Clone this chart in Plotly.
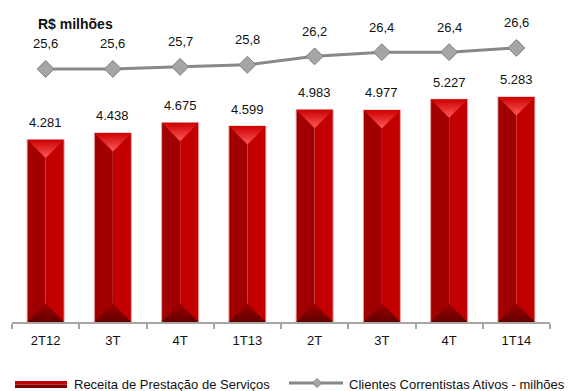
import plotly.graph_objects as go

# Quarterly periods, service revenue (R$ millions) and active checking-account clients (millions)
periodos = ["2T12", "3T", "4T", "1T13", "2T", "3T", "4T", "1T14"]
receita = [4281, 4438, 4675, 4599, 4983, 4977, 5227, 5283]
clientes = [25.6, 25.6, 25.7, 25.8, 26.2, 26.4, 26.4, 26.6]

nome_receita = "Receita de Prestação de Serviços"
nome_clientes = "Clientes Correntistas Ativos - milhões"
titulo = "R$ milhões"

# Canvas / plot-area geometry (pixels)
W, H = 569, 391
ML, MR, MT, MB = 12, 19, 10, 69
PLOT_W = W - ML - MR
PLOT_H = H - MT - MB

Y_MAX = 7324.0                  # revenue axis
Y2_MIN = 13.55                  # clients axis
Y2_MAX = Y2_MIN + PLOT_H / 21.0

FONT = "Liberation Sans, Arial, Helvetica, sans-serif"
HALF = 0.275                    # half bar width (category units)
BEVEL = HALF * (PLOT_W / len(periodos)) * Y_MAX / PLOT_H   # 45-degree bevel in revenue units

xs = list(range(len(periodos)))


def fmt_milhar(v):
    return f"{v:,}".replace(",", ".")


def fmt_dec(v):
    return f"{v:.1f}".replace(".", ",")


def px_x(p):
    return (p - ML) / PLOT_W


def px_y(p):
    return (H - MB - p) / PLOT_H


fig = go.Figure()

# Bar body: darker left face, brighter right face
fig.add_trace(go.Bar(x=xs, y=receita, width=HALF, offset=-HALF,
                     marker=dict(color="#A10000", line=dict(width=0)),
                     hoverinfo="skip", showlegend=False))
fig.add_trace(go.Bar(x=xs, y=receita, width=HALF, offset=0,
                     marker=dict(color="#C20000", line=dict(width=0)),
                     hoverinfo="skip", showlegend=False))

# Bevelled caps: light triangle at top, dark triangle at bottom
for i, v in zip(xs, receita):
    fig.add_trace(go.Scatter(
        x=[i - HALF, i + HALF, i, i - HALF], y=[v, v, v - BEVEL, v],
        mode="lines", fill="toself", line=dict(width=0),
        fillgradient=dict(type="vertical",
                          colorscale=[[0, "#FF5A5A"], [1, "#CC0000"]]),
        hoverinfo="skip", showlegend=False))
    fig.add_trace(go.Scatter(
        x=[i - HALF, i + HALF, i, i - HALF], y=[0, 0, BEVEL, 0],
        mode="lines", fill="toself", line=dict(width=0),
        fillgradient=dict(type="vertical",
                          colorscale=[[0, "#640000"], [1, "#9C0000"]]),
        hoverinfo="skip", showlegend=False))

# Thin light edge around each bar
fig.add_trace(go.Bar(x=xs, y=receita, width=2 * HALF, offset=-HALF,
                     marker=dict(color="rgba(0,0,0,0)",
                                 line=dict(color="rgba(236,165,165,0.9)", width=1)),
                     hoverinfo="skip", showlegend=False))

# Clients line on the secondary axis
fig.add_trace(go.Scatter(
    x=xs, y=clientes, yaxis="y2", mode="lines+markers",
    line=dict(color="#888888", width=3),
    marker=dict(symbol="diamond", size=13, color="#A5A5A5",
                line=dict(color="#808080", width=1)),
    hoverinfo="skip", showlegend=False))

annotations = []
for i, v in zip(xs, receita):
    annotations.append(dict(x=i, y=v, xref="x", yref="y", text=fmt_milhar(v),
                            showarrow=False, yshift=17,
                            font=dict(size=13, color="#111111", family=FONT)))
for i, c in zip(xs, clientes):
    annotations.append(dict(x=i, y=c, xref="x", yref="y2", text=fmt_dec(c),
                            showarrow=False, yshift=25,
                            font=dict(size=13, color="#111111", family=FONT)))

annotations.append(dict(x=px_x(36), y=px_y(24), xref="paper", yref="paper",
                        xanchor="left", yanchor="middle", showarrow=False,
                        text=f"<b>{titulo}</b>",
                        font=dict(size=14, color="#111111", family=FONT)))

# Legend entries
LEG_Y = 384
annotations.append(dict(x=px_x(72), y=px_y(LEG_Y), xref="paper", yref="paper",
                        xanchor="left", yanchor="middle", showarrow=False,
                        text=nome_receita,
                        font=dict(size=13, color="#111111", family=FONT)))
annotations.append(dict(x=px_x(347), y=px_y(LEG_Y), xref="paper", yref="paper",
                        xanchor="left", yanchor="middle", showarrow=False,
                        text=nome_clientes,
                        font=dict(size=13, color="#111111", family=FONT)))

shapes = [
    dict(type="rect", xref="paper", yref="paper",
         x0=px_x(15), x1=px_x(67), y0=px_y(LEG_Y + 0.5), y1=px_y(LEG_Y - 3),
         fillcolor="#C00000", line=dict(width=0)),
    dict(type="rect", xref="paper", yref="paper",
         x0=px_x(15), x1=px_x(67), y0=px_y(LEG_Y + 4), y1=px_y(LEG_Y + 0.5),
         fillcolor="#7E0000", line=dict(width=0)),
    dict(type="line", xref="paper", yref="paper",
         x0=px_x(289), x1=px_x(343), y0=px_y(LEG_Y - 1), y1=px_y(LEG_Y - 1),
         line=dict(color="#888888", width=3)),
    dict(type="path", xref="paper", yref="paper",
         path=(f"M {px_x(317 - 4.5)},{px_y(LEG_Y - 1)} "
               f"L {px_x(317)},{px_y(LEG_Y - 5.5)} "
               f"L {px_x(317 + 4.5)},{px_y(LEG_Y - 1)} "
               f"L {px_x(317)},{px_y(LEG_Y + 3.5)} Z"),
         fillcolor="#A5A5A5", line=dict(color="#808080", width=1)),
]

fig.update_layout(
    width=W, height=H,
    margin=dict(l=ML, r=MR, t=MT, b=MB, pad=0),
    paper_bgcolor="white", plot_bgcolor="white",
    barmode="overlay",
    showlegend=False,
    font=dict(family=FONT, size=13, color="#111111"),
    xaxis=dict(range=[-0.5, len(periodos) - 0.5], tickmode="array",
               tickvals=xs, ticktext=periodos, ticks="", showgrid=False,
               zeroline=False, showline=True, linecolor="#A6A6A6", linewidth=1.5,
               ticklabelstandoff=6,
               tickfont=dict(size=13, color="#111111", family=FONT),
               minor=dict(ticks="outside", tickmode="linear", tick0=0.5, dtick=1,
                          ticklen=5, tickwidth=1.5, tickcolor="#A6A6A6",
                          showgrid=False),
               fixedrange=True),
    yaxis=dict(range=[0, Y_MAX], visible=False, showgrid=False, zeroline=False,
               fixedrange=True),
    yaxis2=dict(range=[Y2_MIN, Y2_MAX], overlaying="y", visible=False,
                showgrid=False, zeroline=False, fixedrange=True),
    annotations=annotations,
    shapes=shapes,
)

fig.write_html("out.html")
